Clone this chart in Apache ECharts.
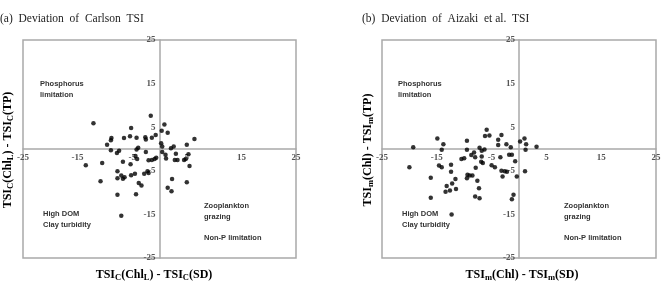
<!DOCTYPE html>
<html>
<head>
<meta charset="utf-8">
<script src="https://cdn.jsdelivr.net/npm/echarts@6/dist/echarts.min.js"></script>
<style>
  html, body { margin: 0; padding: 0; background: #fff; }
  #chart { width: 670px; height: 283px; }
</style>
</head>
<body>
<div id="chart"></div>
<script>
// tick labels shown on both axes
const tickValues = [-25, -15, -5, 5, 15, 25];

// (a) Carlson TSI deviations
const carlsonX = [-12.1, -1.6, 0.9, 0.4, 1.5, -5.2, -5.4, -4.2, -2.6, -2.5, -1.4, -0.7, -6.5, -8.8, -8.9,
  -9.6, -8.9, -7.8, -7.4, -4.2, -3.9, -2.5, -4.4, -5.3, -6.7, -10.5, -13.5, -2.0, -1.4, -0.9,
  -0.6, 0.5, 0.3, 0.5, 1.1, 1.2, 2.1, 2.6, 3.0, 2.8, 3.3, 4.5, 4.8, 5.0, 5.3,
  5.5, 6.4, 5.0, 2.3, 1.5, 2.2, -7.7, -7.7, -7.0, -6.7, -6.4, -5.2, -4.5, -3.8, -3.3,
  -2.8, -2.2, -2.0, -10.8, -7.7, -4.3, -7.0, -4.1];
const carlsonY = [5.9, 7.6, 5.6, 4.2, 3.7, 4.8, 2.9, 2.6, 2.7, 2.2, 2.6, 3.2, 2.5, 2.5, 2.0,
  1.0, -0.3, -0.9, -0.4, -0.1, 0.3, -0.7, -1.6, -3.5, -2.9, -3.2, -3.7, -2.6, -2.5, -2.3,
  -2.0, -0.7, 1.3, 0.6, -1.3, -2.2, 0.2, 0.6, -1.1, -2.5, -2.5, -2.5, -2.3, 1.0, -1.2,
  -3.9, 2.3, -7.6, -6.9, -8.9, -9.7, -5.1, -6.7, -6.1, -6.8, -6.5, -6.0, -5.7, -7.8, -8.4,
  -5.7, -5.1, -5.5, -7.4, -10.5, -10.4, -15.3, -2.3];

// (b) Aizaki et al. TSI deviations
const aizakiX = [-19.3, -20.0, -16.1, -16.1, -14.9, -14.6, -14.1, -13.8, -14.1, -12.4, -12.4, -12.2, -13.4, -13.2, -12.6,
  -11.5, -11.6, -12.3, -10.5, -10.0, -9.5, -9.4, -9.0, -8.5, -9.5, -9.5, -8.7, -8.2, -8.0, -7.9,
  -7.6, -8.0, -7.2, -7.3, -7.2, -6.8, -6.9, -6.6, -6.8, -6.3, -6.2, -5.9, -5.4, -5.0, -4.4,
  -3.8, -3.8, -3.4, -3.2, -3.2, -3.0, -2.6, -2.3, -2.2, -1.8, -1.3, -1.5, -0.7, -0.4, -1.3,
  -1.0, 0.2, 1.0, 1.3, 1.2, 1.1, 3.2];
const aizakiY = [0.4, -4.2, -6.6, -11.2, 2.4, -3.8, -4.2, 1.1, -0.2, -3.6, -5.2, -7.9, -9.8, -8.5, -9.5,
  -9.2, -6.9, -15.0, -2.3, -2.1, -6.7, -5.9, -6.1, -6.1, 1.9, -0.2, -1.4, -0.8, -1.9, -4.3,
  -7.3, -10.9, -11.3, -9.0, 0.3, -0.4, -2.9, -3.2, -1.7, -0.1, 3.0, 4.4, 3.1, -3.7, -4.2,
  0.9, 2.1, -1.9, 3.2, -5.0, -6.3, -5.1, 1.1, -5.2, -1.3, -1.3, 0.4, -2.8, -6.3, -11.5,
  -10.5, 1.7, 2.4, 1.1, -0.2, -5.1, 0.5];

const zip = (xs, ys) => xs.map((x, i) => [x, ys[i]]);

const lineColor = '#a9a9a9';
const serif = "'Liberation Serif', 'DejaVu Serif', serif";
const sans = "'Liberation Sans', Arial, sans-serif";

// axes are shifted into the middle of the box so they cross at 0,0
function valueAxis(gridIndex, offset) {
  return {
    type: 'value',
    gridIndex: gridIndex,
    min: -25,
    max: 25,
    interval: 5,
    offset: offset,
    axisLine: { onZero: false, lineStyle: { color: lineColor, width: 1.5 } },
    axisTick: { show: false },
    splitLine: { show: false },
    axisLabel: {
      showMinLabel: true,
      showMaxLabel: true,
      margin: 4,
      color: '#555',
      fontFamily: serif,
      fontWeight: 'bold',
      fontSize: 9,
      formatter: v => tickValues.indexOf(v) >= 0 ? String(v) : ''
    }
  };
}

const subRich = {
  b: { fontFamily: serif, fontWeight: 'bold', fontSize: 12, color: '#222' },
  s: { fontFamily: serif, fontWeight: 'bold', fontSize: 8.5, color: '#222', padding: [6, 0, 0, 0] }
};

function note(left, top, text) {
  return {
    type: 'text', left: left, top: top,
    style: { text: text, font: 'bold 7.5px ' + sans, fill: '#333', lineHeight: 11 }
  };
}

let chart = echarts.init(document.getElementById('chart'));
chart.setOption({
  animation: false,
  grid: [
    { left: 23, top: 40, width: 273, height: 218, show: true, borderColor: lineColor, borderWidth: 1.5 },
    { left: 382, top: 40, width: 274, height: 218, show: true, borderColor: lineColor, borderWidth: 1.5 }
  ],
  xAxis: [valueAxis(0, -109), valueAxis(1, -109)],
  yAxis: [valueAxis(0, -136.5), valueAxis(1, -137)],
  series: [
    {
      type: 'scatter', xAxisIndex: 0, yAxisIndex: 0,
      symbolSize: 4.5, itemStyle: { color: '#000' },
      data: zip(carlsonX, carlsonY)
    },
    {
      type: 'scatter', xAxisIndex: 1, yAxisIndex: 1,
      symbolSize: 4.5, itemStyle: { color: '#000' },
      data: zip(aizakiX, aizakiY)
    }
  ],
  graphic: [
    { type: 'text', left: 0, top: 13, style: { text: '(a)  Deviation  of  Carlson  TSI', font: '11.5px ' + serif, fill: '#222' } },
    { type: 'text', left: 362, top: 13, style: { text: '(b)  Deviation  of  Aizaki  et al.  TSI', font: '11.5px ' + serif, fill: '#222' } },
    {
      type: 'text', x: 154, y: 275,
      style: { text: '{b|TSI}{s|C}{b|(Chl}{s|L}{b|) - TSI}{s|C}{b|(SD)}', rich: subRich, align: 'center', verticalAlign: 'middle' }
    },
    {
      type: 'text', x: 522, y: 275,
      style: { text: '{b|TSI}{s|m}{b|(Chl) - TSI}{s|m}{b|(SD)}', rich: subRich, align: 'center', verticalAlign: 'middle' }
    },
    {
      type: 'text', x: 8, y: 150, rotation: Math.PI / 2,
      style: { text: '{b|TSI}{s|C}{b|(Chl}{s|L}{b|) - TSI}{s|C}{b|(TP)}', rich: subRich, align: 'center', verticalAlign: 'middle' }
    },
    {
      type: 'text', x: 368, y: 150, rotation: Math.PI / 2,
      style: { text: '{b|TSI}{s|m}{b|(Chl) - TSI}{s|m}{b|(TP)}', rich: subRich, align: 'center', verticalAlign: 'middle' }
    },
    note(40, 78, 'Phosphorus\nlimitation'),
    note(43, 208, 'High DOM\nClay turbidity'),
    note(204, 200, 'Zooplankton\ngrazing'),
    note(204, 232, 'Non-P limitation'),
    note(398, 78, 'Phosphorus\nlimitation'),
    note(402, 208, 'High DOM\nClay turbidity'),
    note(564, 200, 'Zooplankton\ngrazing'),
    note(564, 232, 'Non-P limitation')
  ]
});
</script>
</body>
</html>
